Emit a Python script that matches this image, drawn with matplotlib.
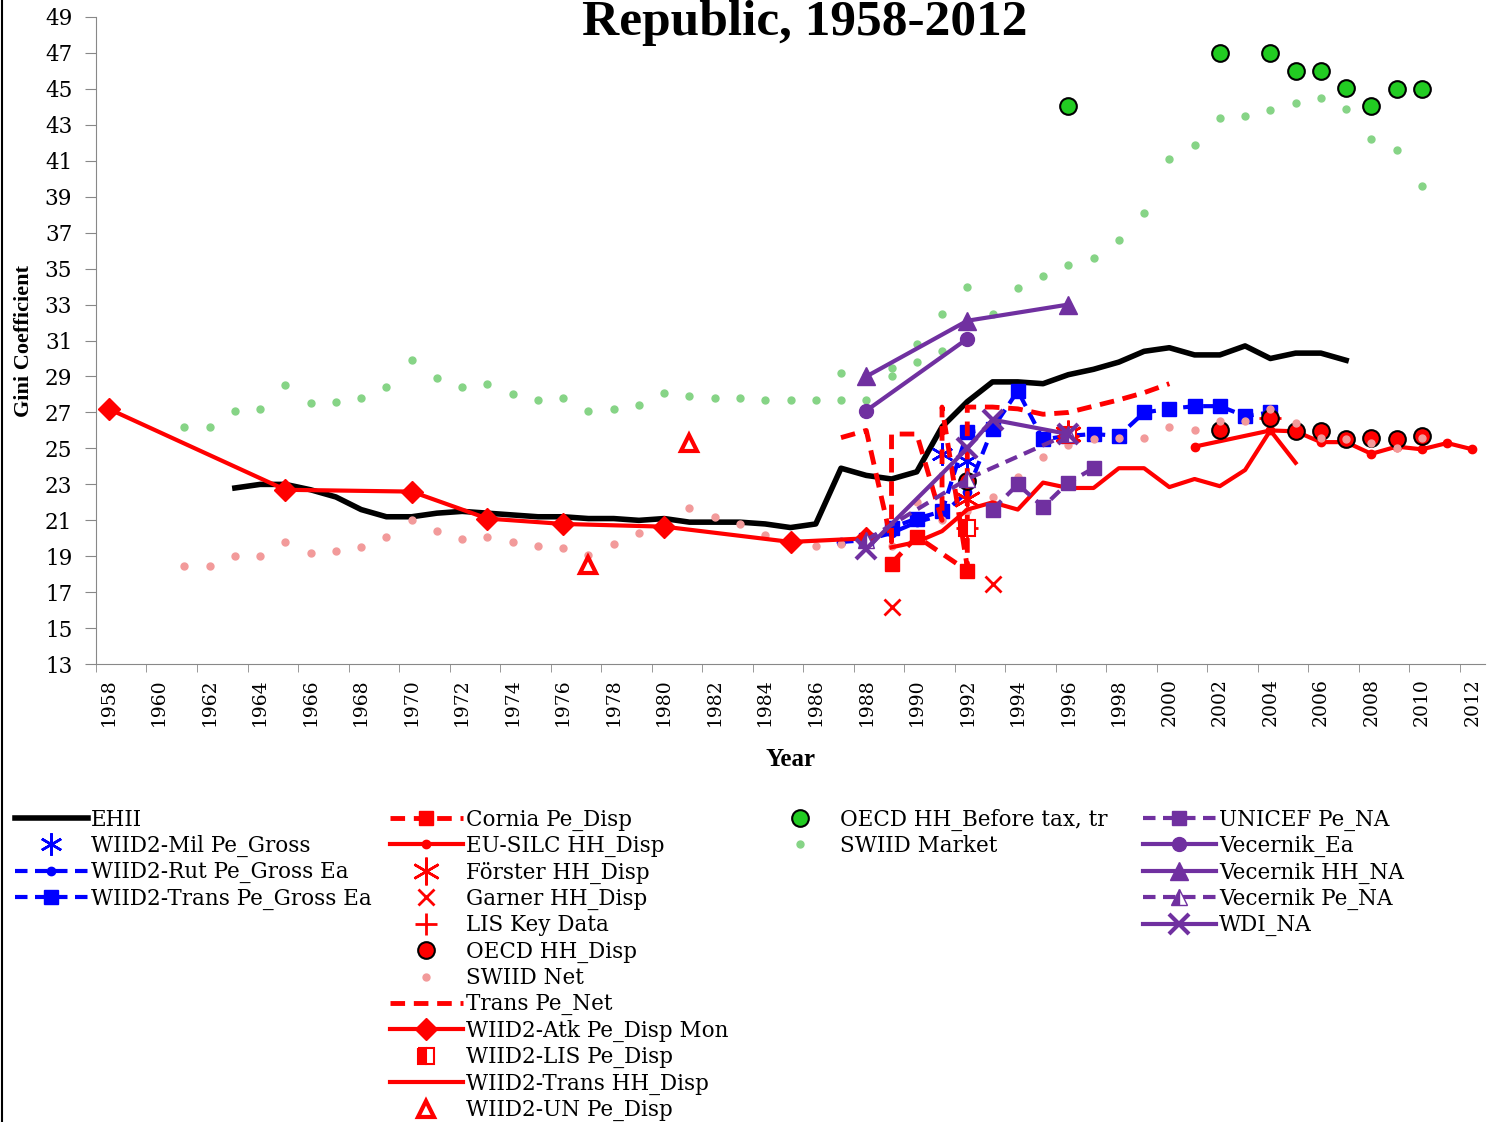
import numpy as np
import matplotlib.pyplot as plt
from matplotlib.lines import Line2D

# ---- data ----
ehii_years = list(range(1963, 2008))
ehii_vals = [22.8, 23.0, 23.0, 22.7, 22.3, 21.6, 21.2, 21.2, 21.4, 21.5,
             21.4, 21.3, 21.2, 21.2, 21.1, 21.1, 21.0, 21.1, 20.9, 20.9,
             20.9, 20.8, 20.6, 20.8, 23.9, 23.5, 23.3, 23.7, 26.2, 27.6,
             28.7, 28.7, 28.6, 29.1, 29.4, 29.8, 30.4, 30.6, 30.2, 30.2,
             30.7, 30.0, 30.3, 30.3, 29.9]

mil_years = [1991, 1992]
mil_vals = [24.7, 24.3]

rut_years = [1987, 1988, 1989, 1990, 1991, 1992, 1993]
rut_vals = [19.8, 19.9, 20.3, 20.9, 21.3, 22.6, 26.1]

tpg_years = [1988, 1989, 1990, 1991, 1992, 1993, 1994, 1995, 1996, 1997,
             1998, 1999, 2000, 2001, 2002, 2003, 2004]
tpg_vals = [19.9, 20.6, 21.1, 21.5, 25.9, 26.1, 28.2, 25.5, 25.7, 25.8,
            25.7, 27.0, 27.2, 27.35, 27.35, 26.8, 27.0]

cornia_years = [1989, 1990, 1992]
cornia_vals = [18.6, 20.1, 18.2]

eusilc_years = [2001, 2004, 2005, 2006, 2007, 2008, 2009, 2010, 2011, 2012]
eusilc_vals = [25.1, 26.0, 25.95, 25.35, 25.35, 24.7, 25.1, 24.95, 25.3, 24.95]

forster_years = [1992, 1996]
forster_vals = [22.2, 25.8]

garner_years = [1989, 1993]
garner_vals = [16.2, 17.45]

lis_years = [1992, 1996, 2004]
lis_vals = [20.6, 25.7, 26.7]

oecd_disp_years = [1992, 2002, 2004, 2005, 2006, 2007, 2008, 2009, 2010]
oecd_disp_vals = [23.2, 26.0, 26.7, 25.95, 25.95, 25.5, 25.6, 25.5, 25.7]

swiid_net_years = [1961, 1962, 1963, 1964, 1965, 1966, 1967, 1968, 1969, 1970,
                   1971, 1972, 1973, 1974, 1975, 1976, 1977, 1978, 1979, 1980,
                   1981, 1982, 1983, 1984, 1985, 1986, 1987, 1988, 1989, 1990,
                   1991, 1992, 1993, 1994, 1995, 1996, 1997, 1998, 1999, 2000,
                   2001, 2002, 2003, 2004, 2005, 2006, 2007, 2008, 2009, 2010]
swiid_net_vals = [18.45, 18.45, 19.0, 19.0, 19.8, 19.2, 19.3, 19.5, 20.1, 21.0,
                  20.4, 19.95, 20.1, 19.8, 19.55, 19.45, 19.1, 19.7, 20.3, 20.9,
                  21.7, 21.2, 20.8, 20.2, 19.6, 19.55, 19.7, 19.7, 19.6, 22.0,
                  21.0, 21.5, 22.3, 23.4, 24.5, 25.2, 25.5, 25.6, 25.6, 26.2,
                  26.0, 26.5, 26.5, 27.2, 26.4, 25.6, 25.5, 25.3, 25.0, 25.6]

tnet_years = [1987, 1988, 1989, 1989, 1990, 1991, 1991, 1992, 1992, 1993,
              1994, 1995, 1996, 1997, 1998, 1999, 2000]
tnet_vals = [25.6, 26.0, 19.8, 25.8, 25.8, 21.0, 27.3, 18.4, 27.3, 27.3,
             27.2, 26.9, 27.0, 27.35, 27.7, 28.1, 28.6]

atk_years = [1958, 1965, 1970, 1973, 1976, 1980, 1985, 1988]
atk_vals = [27.2, 22.7, 22.6, 21.1, 20.8, 20.65, 19.8, 20.0]

wlis_years = [1992, 1996]
wlis_vals = [20.6, 25.75]

thh_years = list(range(1989, 2006))
thh_vals = [19.5, 19.8, 20.4, 21.6, 22.0, 21.6, 23.1, 22.8, 22.8, 23.9,
            23.9, 22.85, 23.3, 22.9, 23.8, 26.0, 24.2]

un_years = [1977, 1981]
un_vals = [18.5, 25.3]

oecd_bt_years = [1996, 2002, 2004, 2005, 2006, 2007, 2008, 2009, 2010]
oecd_bt_vals = [44.05, 47.0, 47.0, 46.0, 46.0, 45.05, 44.05, 45.0, 45.0]

swiid_mkt_years = [1961, 1962, 1963, 1964, 1965, 1966, 1967, 1968, 1969, 1970,
                   1971, 1972, 1973, 1974, 1975, 1976, 1977, 1978, 1979, 1980,
                   1981, 1982, 1983, 1984, 1985, 1986, 1987, 1988, 1989, 1990,
                   1991, 1992, 1987, 1988, 1989, 1990, 1991, 1992, 1993, 1994,
                   1995, 1996, 1997, 1998, 1999, 2000, 2001, 2002, 2003, 2004,
                   2005, 2006, 2007, 2008, 2009, 2010]
swiid_mkt_vals = [26.2, 26.2, 27.1, 27.2, 28.5, 27.5, 27.6, 27.8, 28.4, 29.9,
                  28.9, 28.4, 28.6, 28.0, 27.7, 27.8, 27.1, 27.2, 27.4, 28.1,
                  27.9, 27.8, 27.8, 27.7, 27.7, 27.7, 27.7, 27.7, 29.0, 29.8,
                  30.4, 30.9, 29.2, 29.1, 29.5, 30.8, 32.5, 34.0, 32.5, 33.9,
                  34.6, 35.2, 35.6, 36.6, 38.1, 41.1, 41.9, 43.4, 43.5, 43.8,
                  44.2, 44.5, 43.9, 42.2, 41.6, 39.6]

unicef_years = [1993, 1994, 1995, 1996, 1997]
unicef_vals = [21.6, 23.0, 21.75, 23.1, 23.9]

vec_ea_years = [1988, 1992]
vec_ea_vals = [27.1, 31.1]

vec_hh_years = [1988, 1992, 1996]
vec_hh_vals = [29.0, 32.1, 33.0]

vec_pe_years = [1988, 1992, 1996]
vec_pe_vals = [19.9, 23.3, 25.8]

wdi_years = [1988, 1992, 1993, 1996]
wdi_vals = [19.4, 25.0, 26.6, 25.8]

RED = '#ff0000'
BLUE = '#0000ff'
PURPLE = '#7030a0'
GREEN = '#22cc22'
DASH = (0, (3, 1.8))

plt.rcParams['font.family'] = 'DejaVu Serif'

fig = plt.figure(figsize=(14.88, 11.22), dpi=100)
ax = fig.add_axes([0.0645, 0.408, 0.9335, 0.577])

h = {}
h['EHII'], = ax.plot(ehii_years, ehii_vals, color='black', lw=4, solid_joinstyle='round')
h['WIID2-Mil Pe_Gross'], = ax.plot(mil_years, mil_vals, ls='none', marker=(6, 2, 0),
                                   ms=16, mec=BLUE, mew=1.8)
h['WIID2-Rut Pe_Gross Ea'], = ax.plot(rut_years, rut_vals, color=BLUE, ls=DASH, lw=3,
                                      marker='o', ms=6)
h['WIID2-Trans Pe_Gross Ea'], = ax.plot(tpg_years, tpg_vals, color=BLUE, ls=DASH, lw=3,
                                        marker='s', ms=10)
h['Cornia Pe_Disp'], = ax.plot(cornia_years, cornia_vals, color=RED, ls=DASH, lw=3.5,
                               marker='s', ms=10)
h['EU-SILC HH_Disp'], = ax.plot(eusilc_years, eusilc_vals, color=RED, lw=3,
                                marker='o', ms=6)
h['Förster HH_Disp'], = ax.plot(forster_years, forster_vals, ls='none', marker=(6, 2, 0),
                                ms=20, mec=RED, mew=1.8)
h['Garner HH_Disp'], = ax.plot(garner_years, garner_vals, ls='none', marker='x',
                               ms=12, mec=RED, mew=2)
h['LIS Key Data'], = ax.plot(lis_years, lis_vals, ls='none', marker='+',
                             ms=16, mec=RED, mew=2)
h['OECD HH_Disp'], = ax.plot(oecd_disp_years, oecd_disp_vals, ls='none', marker='o',
                             ms=12, mfc=RED, mec='black', mew=1.5)
h['SWIID Net'], = ax.plot(swiid_net_years, swiid_net_vals, ls='none', marker='o',
                          ms=5, mfc='#f29a9a', mec='#f29a9a')
h['Trans Pe_Net'], = ax.plot(tnet_years, tnet_vals, color=RED, ls=DASH, lw=3.5)
h['WIID2-Atk Pe_Disp Mon'], = ax.plot(atk_years, atk_vals, color=RED, lw=3,
                                      marker='D', ms=11)
h['WIID2-LIS Pe_Disp'], = ax.plot(wlis_years, wlis_vals, ls='none', marker='s', ms=11,
                                  mfc=RED, mec=RED, fillstyle='left',
                                  markerfacecoloralt='white', mew=1.5)
h['WIID2-Trans HH_Disp'], = ax.plot(thh_years, thh_vals, color=RED, lw=3)
h['WIID2-UN Pe_Disp'], = ax.plot(un_years, un_vals, ls='none', marker='^', ms=12,
                                 mfc='white', mec=RED, mew=3)
h['OECD HH_Before tax, tr'], = ax.plot(oecd_bt_years, oecd_bt_vals, ls='none', marker='o',
                                       ms=12, mfc=GREEN, mec='black', mew=1.5)
h['SWIID Market'], = ax.plot(swiid_mkt_years, swiid_mkt_vals, ls='none', marker='o',
                             ms=5, mfc='#86d486', mec='#86d486')
h['UNICEF Pe_NA'], = ax.plot(unicef_years, unicef_vals, color=PURPLE, ls=DASH, lw=3,
                             marker='s', ms=10)
h['Vecernik_Ea'], = ax.plot(vec_ea_years, vec_ea_vals, color=PURPLE, lw=3,
                            marker='o', ms=10)
h['Vecernik HH_NA'], = ax.plot(vec_hh_years, vec_hh_vals, color=PURPLE, lw=3,
                               marker='^', ms=13)
h['Vecernik Pe_NA'], = ax.plot(vec_pe_years, vec_pe_vals, color=PURPLE, ls=DASH, lw=3,
                               marker='^', ms=12, fillstyle='left',
                               markerfacecoloralt='white')
h['WDI_NA'], = ax.plot(wdi_years, wdi_vals, color=PURPLE, lw=3,
                       marker='x', ms=14, mew=3)

ax.set_xlim(1957.5, 2012.5)
ax.set_ylim(13, 49)
ax.set_yticks(np.arange(13, 50, 2))
ax.set_xticks(np.arange(1958, 2013, 2))
ax.set_xticklabels([str(y) for y in range(1958, 2013, 2)], rotation=90, fontsize=13.5)
ax.set_xticks(np.arange(1957.5, 2013, 2), minor=True)
ax.tick_params(axis='x', which='major', length=0, pad=10)
ax.tick_params(axis='x', which='minor', length=6, color='#888888')
ax.tick_params(axis='y', labelsize=15.5, length=8, pad=9, color='#888888')
for s in ['top', 'right']:
    ax.spines[s].set_visible(False)
for s in ['left', 'bottom']:
    ax.spines[s].set_color('#888888')

ax.set_xlabel('Year', fontsize=18, fontweight='bold', family='Liberation Serif',
              labelpad=16)
ax.set_ylabel('Gini Coefficient', fontsize=16, fontweight='bold',
              family='Liberation Serif', labelpad=8)
fig.text(0.541, 1.0, 'Republic, 1958-2012', ha='center', va='top',
         fontsize=37, fontweight='bold', family='Liberation Serif')

cols = [
    (['EHII', 'WIID2-Mil Pe_Gross', 'WIID2-Rut Pe_Gross Ea', 'WIID2-Trans Pe_Gross Ea'], 0.010),
    (['Cornia Pe_Disp', 'EU-SILC HH_Disp', 'Förster HH_Disp', 'Garner HH_Disp',
      'LIS Key Data', 'OECD HH_Disp', 'SWIID Net', 'Trans Pe_Net',
      'WIID2-Atk Pe_Disp Mon', 'WIID2-LIS Pe_Disp', 'WIID2-Trans HH_Disp',
      'WIID2-UN Pe_Disp'], 0.262),
    (['OECD HH_Before tax, tr', 'SWIID Market'], 0.513),
    (['UNICEF Pe_NA', 'Vecernik_Ea', 'Vecernik HH_NA', 'Vecernik Pe_NA', 'WDI_NA'], 0.768),
]
for names, x0 in cols:
    leg = fig.legend([h[n] for n in names], names, loc='upper left',
                     bbox_to_anchor=(x0, 0.2794), frameon=False, fontsize=15.5,
                     handlelength=3.4, handletextpad=0.15, labelspacing=0.2,
                     borderaxespad=0, borderpad=0, numpoints=1)

fig.add_artist(Line2D([0.0015, 0.0015], [0, 1], color='black', lw=1.5,
                      transform=fig.transFigure))

fig.savefig('out.png', dpi=100)
